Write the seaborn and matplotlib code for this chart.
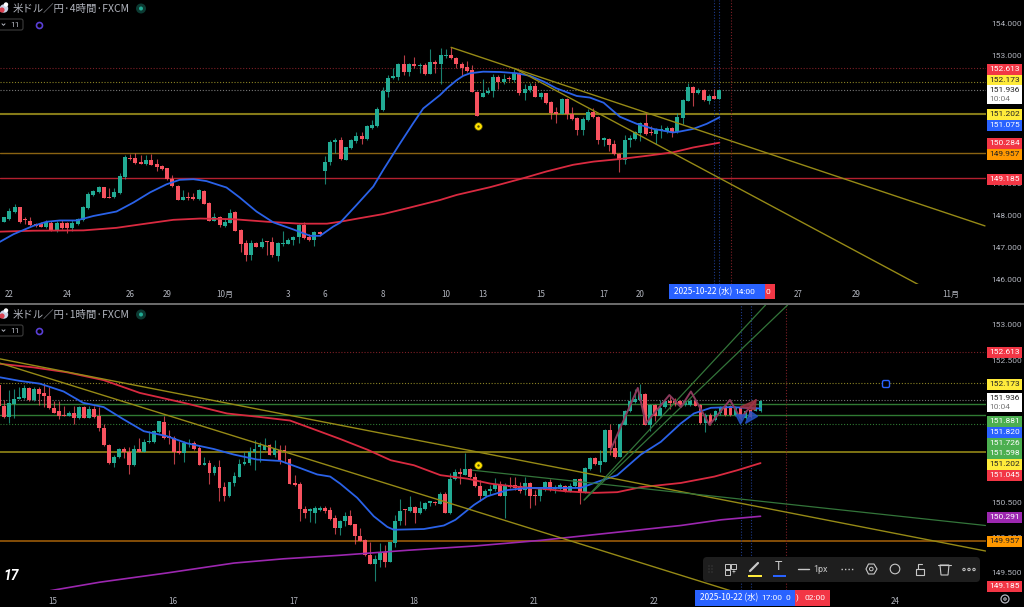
import numpy as np
import matplotlib
matplotlib.use("Agg")
import matplotlib.pyplot as plt
from matplotlib.patches import Rectangle, FancyBboxPatch, Circle, Polygon
import seaborn as sns

# ---------- 4 hour panel candles ----------
top_body_hi = [147.96,148.17,148.29,148.29,147.90,147.85,147.75,147.75,147.82,147.79,147.77,147.79,147.79,147.79,147.91,148.27,148.69,148.77,148.91,148.91,148.58,148.74,149.25,149.84,149.81,149.81,149.68,149.76,149.76,149.62,149.56,149.49,149.17,148.95,148.60,148.59,148.58,148.81,148.79,148.42,147.97,147.96,147.80,148.10,148.11,147.56,147.15,147.17,147.17,147.20,147.21,147.18,147.16,147.17,147.26,147.35,147.72,147.72,147.33,147.50,147.50,149.69,150.32,150.38,
150.38,150.17,150.36,150.51,150.50,150.81,150.83,151.34,151.91,152.32,152.36,152.76,152.76,152.76,152.75,152.72,152.72,152.81,152.82,153.02,153.02,153.03,152.95,152.75,152.66,152.55,151.89,151.83,151.92,152.35,152.34,152.29,152.31,152.47,152.47,151.98,152.06,152.05,151.83,151.83,151.56,151.25,151.65,151.65,151.20,151.05,151.04,151.26,151.26,151.10,150.43,150.42,150.24,149.95,150.38,150.43,150.61,150.91,150.92,150.64,150.71,150.72,150.75,150.74,151.08,151.63,152.03,152.04,151.95,151.94,151.75,151.75,151.94]
top_body_lo = [147.82,147.92,148.14,147.82,147.87,147.72,147.69,147.67,147.65,147.54,147.52,147.63,147.61,147.61,147.75,147.88,148.24,148.66,148.74,148.56,148.56,148.58,148.71,149.22,149.77,149.66,149.64,149.62,149.60,149.54,149.46,149.16,148.94,148.50,148.50,148.55,148.54,148.52,148.39,147.85,147.84,147.72,147.70,147.79,147.54,147.11,146.78,146.77,147.03,147.02,147.20,146.77,146.76,147.11,147.13,147.25,147.33,147.32,147.24,147.25,147.44,149.42,149.68,150.30,
149.77,149.75,150.13,150.33,150.41,150.40,150.76,150.80,151.30,151.87,152.30,152.33,152.49,152.49,152.69,152.69,152.45,152.45,152.75,152.74,152.99,152.94,152.74,152.64,152.53,151.89,151.13,151.72,151.84,151.91,152.19,152.19,152.27,152.24,151.84,151.84,151.94,151.72,151.73,151.53,151.23,151.20,151.20,151.19,151.02,150.69,150.69,151.01,151.08,150.38,150.38,150.22,149.94,149.75,149.75,150.36,150.41,150.58,150.56,150.58,150.57,150.69,150.63,150.61,150.61,151.05,151.60,151.83,151.83,151.61,151.60,151.67,151.67]
top_high = [147.98,148.24,148.38,148.29,147.96,147.98,147.77,147.82,147.88,147.85,147.85,147.88,147.82,147.88,147.93,148.31,148.76,148.81,148.94,148.92,148.86,148.86,149.35,149.91,149.94,149.96,149.91,149.91,149.94,149.77,149.59,149.51,149.28,148.97,148.81,148.76,148.73,148.84,148.81,148.43,148.08,148.00,147.93,148.21,148.17,147.58,147.25,147.25,147.20,147.30,147.23,147.35,147.20,147.54,147.30,147.37,147.75,147.82,147.44,147.53,147.54,149.88,150.38,150.44,
150.48,150.17,150.40,150.64,150.64,150.83,151.00,151.40,152.04,152.41,152.64,152.79,153.03,152.79,152.96,152.77,152.77,153.23,152.88,153.24,153.21,153.27,152.98,152.82,152.84,152.71,151.92,152.27,152.02,152.44,152.41,152.44,152.38,152.58,152.49,152.11,152.15,152.15,151.89,151.85,151.58,151.40,151.68,151.68,151.40,151.10,151.08,151.33,151.36,151.13,150.46,150.44,150.38,149.97,150.53,150.53,150.65,150.95,151.23,150.81,150.74,150.84,150.81,150.79,151.21,151.65,152.17,152.06,151.99,151.96,151.80,151.96,151.96]
top_low = [147.80,147.88,148.08,147.79,147.75,147.69,147.65,147.65,147.61,147.52,147.50,147.60,147.48,147.54,147.72,147.85,148.22,148.63,148.71,148.55,148.55,148.56,148.69,149.15,149.75,149.62,149.61,149.60,149.58,149.42,149.44,149.13,148.92,148.49,148.49,148.50,148.50,148.50,148.38,147.84,147.83,147.67,147.67,147.77,147.53,146.89,146.59,146.62,147.02,147.00,146.78,146.73,146.60,147.06,147.11,147.09,147.17,147.28,147.22,147.06,147.38,149.00,149.59,149.98,
149.75,149.75,150.10,150.27,150.25,150.38,150.73,150.77,151.28,151.73,152.28,152.25,152.41,152.38,152.61,152.46,152.42,152.43,152.48,152.13,152.93,152.90,152.64,152.38,152.51,151.86,151.11,151.71,151.81,151.73,151.97,152.11,152.22,152.20,151.79,151.63,151.89,151.71,151.65,151.51,151.02,150.90,151.19,151.02,151.00,150.52,150.52,150.98,151.05,150.25,150.19,150.04,149.92,149.39,149.63,150.17,150.38,150.35,150.54,150.52,150.25,150.43,150.60,150.48,150.59,150.88,151.59,151.45,151.81,151.60,151.50,151.65,151.67]
top_dir = "gggrrrrrgrgrrggggggrrgggrrrgrrrrrrgrrgrrgrggrrrgrgrrgggggrrgrggg" \
          "rgggrgggggggrgrgrgrggrrrrrrgggrgrgrggrgrrrgrrrggrrgrrrggggrrgggrgggrgrgrg"

# ---------- 1 hour panel candles ----------
bot_body_hi = [152.15,151.86,151.90,151.96,151.98,152.11,152.11,152.10,152.10,152.04,151.99,151.83,151.78,151.73,151.76,151.76,151.84,151.84,151.81,151.81,151.71,151.55,151.31,151.14,151.25,151.25,151.20,151.25,151.25,151.35,151.36,151.50,151.64,151.63,151.43,151.41,151.22,151.34,151.34,151.34,151.26,151.05,151.05,150.99,150.99,150.71,150.78,150.87,151.04,151.06,151.20,151.25,151.31,151.30,151.30,151.25,151.24,151.24,151.11,150.77,150.75,150.40,150.40,150.41,150.42,150.42,150.39,150.27,150.24,
150.31,150.31,150.19,150.02,149.97,149.76,149.70,149.78,149.79,149.94,150.24,150.38,150.40,150.43,150.43,150.41,150.49,150.51,150.50,150.62,150.62,150.83,150.93,150.93,150.96,150.96,150.86,150.73,150.66,150.69,150.75,150.75,150.74,150.74,150.74,150.72,150.77,150.77,150.60,150.68,150.79,150.78,150.71,150.74,150.73,150.73,150.82,150.83,150.98,151.12,151.12,151.08,151.52,151.52,151.26,151.60,151.79,151.92,151.95,152.03,152.03,151.87,151.87,151.83,151.93,151.93,151.92,
151.92,151.92,151.93,151.93,151.87,151.73,151.73,151.79,151.84,151.85,151.85,151.84,151.83,151.78,151.80,151.82,151.93]
bot_body_lo = [151.85,151.70,151.70,151.89,151.96,151.97,151.94,151.94,152.03,151.99,151.83,151.76,151.72,151.72,151.72,151.68,151.68,151.69,151.69,151.70,151.55,151.30,151.05,151.05,151.13,151.20,151.03,151.03,151.21,151.21,151.35,151.35,151.49,151.40,151.40,151.20,151.19,151.19,151.32,151.25,151.03,151.03,150.91,150.91,150.70,150.58,150.58,150.77,150.86,151.04,151.05,151.20,151.28,151.24,151.17,151.17,151.10,151.21,150.76,150.74,150.40,150.34,150.38,150.34,150.39,150.38,150.26,150.14,150.14,
150.23,150.18,150.02,149.95,149.75,149.63,149.63,149.69,149.66,149.66,149.92,150.23,150.39,150.37,150.34,150.34,150.40,150.49,150.49,150.48,150.34,150.34,150.82,150.90,150.88,150.85,150.72,150.59,150.59,150.65,150.68,150.59,150.58,150.71,150.70,150.66,150.67,150.59,150.59,150.58,150.67,150.67,150.69,150.69,150.65,150.65,150.72,150.63,150.64,150.97,151.04,151.03,151.07,151.26,151.14,151.14,151.59,151.79,151.91,151.94,151.59,151.59,151.71,151.72,151.84,151.90,151.89,
151.87,151.87,151.87,151.86,151.61,151.61,151.61,151.66,151.75,151.73,151.73,151.73,151.68,151.68,151.70,151.79,151.78]
bot_high = [152.18,151.94,152.08,152.09,152.12,152.15,152.12,152.12,152.12,152.16,152.12,151.92,151.92,151.86,151.78,151.86,151.85,151.85,151.86,151.86,151.84,151.60,151.32,151.16,151.26,151.28,151.28,151.31,151.40,151.39,151.50,151.51,151.65,151.72,151.52,151.43,151.36,151.36,151.39,151.36,151.31,151.13,151.10,151.03,151.10,150.78,150.79,150.93,151.11,151.20,151.28,151.38,151.35,151.41,151.32,151.38,151.30,151.30,151.12,150.88,150.79,150.44,150.41,150.44,150.45,150.44,150.43,150.32,150.25,
150.36,150.39,150.19,150.13,149.98,149.94,149.76,149.92,149.90,149.94,150.32,150.55,150.40,150.59,150.44,150.51,150.50,150.52,150.51,150.64,150.64,150.91,150.96,150.98,151.19,150.98,150.91,150.81,150.68,150.74,150.84,150.80,150.77,150.86,150.86,150.79,150.86,150.78,150.67,150.70,150.80,150.83,150.74,150.77,150.74,150.77,150.83,150.84,150.99,151.14,151.14,151.24,151.53,151.60,151.38,151.61,151.80,152.06,152.09,152.17,152.04,151.89,151.88,151.94,151.94,151.99,151.97,
151.94,151.94,151.95,151.94,151.89,151.75,151.75,151.80,151.86,151.87,151.87,151.86,151.85,151.80,151.83,151.84,151.94]
bot_low = [151.84,151.68,151.62,151.68,151.95,151.96,151.93,151.93,151.87,151.84,151.82,151.75,151.67,151.71,151.71,151.60,151.67,151.68,151.68,151.68,151.50,151.29,151.04,151.00,151.12,151.12,150.90,151.01,151.20,151.20,151.33,151.33,151.47,151.39,151.32,151.04,151.18,151.07,151.28,151.24,151.03,151.02,150.75,150.88,150.51,150.51,150.57,150.72,150.85,151.03,151.03,150.95,151.07,151.23,151.16,151.14,151.04,151.05,150.75,150.73,150.24,150.27,150.22,150.21,150.38,150.34,150.25,150.05,150.04,
150.16,150.17,149.91,149.95,149.74,149.62,149.38,149.59,149.59,149.65,149.87,150.17,150.17,150.36,150.21,150.33,150.39,150.44,150.46,150.47,150.34,150.33,150.81,150.76,150.88,150.84,150.71,150.52,150.58,150.60,150.66,150.58,150.27,150.70,150.67,150.63,150.60,150.41,150.46,150.52,150.66,150.66,150.63,150.67,150.64,150.64,150.71,150.48,150.63,150.95,151.03,150.92,151.06,151.17,151.12,151.13,151.59,151.77,151.90,151.93,151.59,151.50,151.64,151.71,151.83,151.81,151.85,
151.85,151.86,151.86,151.85,151.60,151.49,151.59,151.65,151.73,151.72,151.71,151.71,151.66,151.67,151.68,151.78,151.77]
bot_dir = "rrggggrgrr" "rrrrgrgrgr" "rrrggrrgrg" "gggrrrrggr" "rgrgrrgggg" "ggggrgrrrr" "rrgggrrrg" \
          "grrrrrggrg" "ggrgrgggrg" "rggrgrrrgg" "grgrrrgrrg" "grggrggrgg" "rggrrggggg" "rgrggrr" \
          "rggrrgrggrrgrgrgg"

# ---------- moving averages ----------
top_blue_x = [-0.8,1.8,5.55,8.1,10.6,13.8,17.0,21.4,24.6,27.8,30.9,33.4,36.0,38.5,42.3,44.8,48.0,51.2,55.0,58.2,60.1,62.6,63.9,67.0,70.2,72.1,75.3,77.8,79.7,82.9,84.2,86.1,87.3,88.6,91.1,94.3,97.5,100.0,102.6,105.0,108.9,111.4,114.0,117.1,120.3,123.5,127.2,128.5,131.0,133.6,136.0]
top_blue_y = [147.19,147.43,147.69,147.82,147.86,147.86,148.00,148.14,148.42,148.74,148.99,149.13,149.15,149.09,148.89,148.58,148.14,147.80,147.58,147.38,147.38,147.67,147.79,148.34,148.92,149.44,150.27,150.90,151.36,151.78,151.99,152.25,152.38,152.46,152.51,152.50,152.46,152.38,152.20,151.99,151.75,151.70,151.54,151.10,150.88,150.72,150.61,150.64,150.72,150.88,151.08]
top_red_x = [-0.8,5.55,15.1,21.4,26.5,32.2,37.3,43.6,50.0,56.2,61.4,63.9,67.6,72.1,76.6,82.9,86.1,92.4,98.7,103.1,108.2,112.1,117.1,122.2,127.2,131.0,136.0]
top_red_y = [147.51,147.54,147.55,147.63,147.75,147.88,147.92,147.90,147.82,147.76,147.76,147.82,147.93,148.06,148.24,148.50,148.66,148.90,149.18,149.39,149.60,149.70,149.78,149.88,149.99,150.14,150.29]

bot_blue_x = [0.2,4.1,8.2,12.9,16.8,20.9,24.8,28.9,33.5,37.5,42.8,46.9,51.5,56.2,60.1,63.5,66.1,68.1,71.5,74.8,77.5,78.8,84.8,88.8,91.1,94.8,97.4,101.5,105.4,112.1,116.1,118.8,123.4,128.1,132.1,136.1,138.7,142.1,146.1,152.0]
bot_blue_y = [152.26,152.21,152.17,152.06,151.90,151.84,151.67,151.50,151.43,151.33,151.25,151.17,151.10,151.08,150.98,150.89,150.86,150.76,150.56,150.30,150.15,150.11,150.12,150.17,150.25,150.46,150.58,150.67,150.70,150.70,150.70,150.77,150.88,151.17,151.35,151.61,151.75,151.83,151.84,151.82]
bot_red_x = [0.2,6.9,13.6,20.9,28.1,36.9,45.5,52.1,58.1,63.5,68.1,73.5,78.2,82.8,88.1,93.5,98.1,102.8,108.1,113.4,118.8,123.4,128.1,136.1,142.8,147.4,152.0]
bot_red_y = [152.45,152.40,152.33,152.22,152.04,151.90,151.75,151.70,151.65,151.51,151.39,151.24,151.09,151.02,150.88,150.83,150.76,150.72,150.69,150.65,150.63,150.64,150.71,150.77,150.86,150.95,151.05]
bot_purple_x = [10.2,20.1,33.5,46.9,56.8,68.1,81.5,94.8,108.1,121.4,136.1,144.1,152.0]
bot_purple_y = [149.25,149.37,149.50,149.64,149.70,149.75,149.82,149.88,149.96,150.06,150.17,150.25,150.30]
zig_x = [122.1,127.5,129.1,133.8,136.1,138.1,141.8,145.9,148.0,151.1]
zig_y = [151.24,152.11,151.61,152.01,151.84,152.06,151.59,151.94,151.68,151.94]

# ---------- levels, trend lines, labels ----------
top_trend_x = [[85.0,186.5],[97.1,173.8]]
top_trend_y = [[153.27,147.69],[152.61,145.86]]
bot_yellow_x = [[0.2,196.9],[0.2,146.0]]
bot_yellow_y = [[152.52,149.81],[152.46,149.25]]
bot_green_x = [[94.5,196.9],[116.8,153.0],[116.8,157.4]]
bot_green_y = [[150.95,150.17],[150.53,153.28],[150.53,153.28]]

top_tick_pos = [1,12,24,31,42,54,61,72,84,91,102,114,121,151,162,180]
top_tick_lab = ["22","24","26","29","10月","3","6","8","10","13","15","17","20","27","29","11月"]
bot_tick_pos = [10.8,34.8,58.8,82.8,106.8,130.8,178.8]
bot_tick_lab = ["15","16","17","18","21","22","24"]
# price ticks that the reference shows at least partly
top_prices = [146,147,148,149,153,154]
bot_prices = [149.5,150,150.5,152,152.5,153]

# tag text, tag colour, text colour, tag centre in image rows
RED, YEL, BLU, GRN, ORG, PUR = "#f23645", "#ffeb3b", "#2962ff", "#4caf50", "#ff9800", "#9c27b0"
top_tags = [("152.613",RED,"w",69),("152.173",YEL,"#222",80),("151.202",YEL,"#222",114),("151.075",BLU,"w",125),("150.284",RED,"w",143),("149.957",ORG,"#222",154),("149.185",RED,"w",179)]
bot_tags = [("152.613",RED,"w",352),("152.173",YEL,"#222",384),("151.881",GRN,"w",421),("151.820",BLU,"w",432),("151.726",GRN,"w",443),("151.598",GRN,"w",453),("151.202",YEL,"#222",464),("151.045",RED,"w",475),("150.291",PUR,"w",517),("149.957",ORG,"#222",541),("149.185",RED,"w",586)]

assert len(top_body_hi) == len(top_body_lo) == len(top_high) == len(top_low) == len(top_dir)
assert len(bot_body_hi) == len(bot_body_lo) == len(bot_high) == len(bot_low) == len(bot_dir)

# ---------- figure ----------
sns.set_theme(style="dark", rc={"axes.facecolor": "black", "figure.facecolor": "black"})
LATIN = ["Roboto", "DejaVu Sans"]
JP = ["Noto Sans CJK JP", "DejaVu Sans"]
plt.rcParams["font.family"] = LATIN
GREY = "#b2b5be"
W, H = 1024, 607
fig = plt.figure(figsize=(W/100, H/100), dpi=100, facecolor="black")

def make_ax(y0, y1, xlim, ylim):
    ax = fig.add_axes([0, 1-y1/H, 985.5/W, (y1-y0)/H], facecolor="black")
    ax.set_xlim(*xlim); ax.set_ylim(*ylim)
    for s in ax.spines.values():
        s.set_visible(False)
    ax.yaxis.tick_right()
    ax.grid(False)
    return ax

def candles(ax, hi, lo, high, low, dirs):
    hi, lo, high, low = map(np.asarray, (hi, lo, high, low))
    x = np.arange(len(hi))
    col = np.where(np.array(list(dirs)) == "g", "#22ab94", "#f7525f")
    ax.vlines(x, low, high, colors=col, lw=0.8, alpha=0.75, zorder=3)
    ax.bar(x, np.maximum(hi-lo, 0.012), bottom=lo, width=0.76, color=col, linewidth=0, zorder=4)

def line(ax, x, y, color, lw=1.3, z=5):
    sns.lineplot(x=x, y=y, ax=ax, color=color, lw=lw, estimator=None, sort=False, zorder=z, legend=False)

def level(ax, y, color, ls="-", lw=1.0):
    ax.axhline(y, color=color, ls=ls, lw=lw, zorder=2)

def ticks(ax, pos, lab, prices, pad):
    ax.set_xticks(pos); ax.set_xticklabels(lab, family=JP, fontsize=5.8, color=GREY)
    ax.set_yticks(prices); ax.set_yticklabels([f"{p:.3f}" for p in prices], fontsize=6, color=GREY)
    ax.tick_params(axis="x", length=0, pad=pad)
    ax.tick_params(axis="y", length=0, pad=4)
    ax.set_xlabel(""); ax.set_ylabel("")

DOT = (0, (1, 1.6))
# top panel
ax1 = make_ax(0, 283.5, (-0.76, 186.6), (145.89, 154.75))
level(ax1, 152.613, "#7d1f26", DOT, 0.8)
level(ax1, 152.173, "#8a8224", DOT, 0.8)
level(ax1, 151.936, "#7a7a7a", DOT, 0.8)
level(ax1, 151.202, "#857a18", "-", 1.5)
level(ax1, 149.957, "#8a6312", "-", 1.0)
level(ax1, 149.185, "#b3202f", "-", 1.0)
for v, c in zip([135, 136, 138.2], ["#1d3a8a", "#1d3a8a", "#7d1f26"]):
    ax1.axvline(v, color=c, ls=DOT, lw=0.8, zorder=2)
for xs, ys in zip(top_trend_x, top_trend_y):
    line(ax1, xs, ys, "#968a16", 1.0, 6)
candles(ax1, top_body_hi, top_body_lo, top_high, top_low, top_dir)
line(ax1, top_red_x, top_red_y, "#d92a40", 1.3)
line(ax1, top_blue_x, top_blue_y, "#2a62e8", 1.3)
ax1.scatter([90.1], [150.82], s=30, color="#ffe000", edgecolor="#5a5200", linewidth=0.5, zorder=7)
ax1.scatter([90.1], [150.82], s=3, color="#5a5200", linewidth=0, zorder=8)
ticks(ax1, top_tick_pos, top_tick_lab, top_prices, 4.5)

# bottom panel
ax2 = make_ax(305, 590, (0.2, 196.9), (149.26, 153.28))
level(ax2, 152.613, "#7d1f26", DOT, 0.8)
level(ax2, 152.173, "#8a8224", DOT, 0.8)
level(ax2, 151.936, "#7a7a7a", DOT, 0.8)
level(ax2, 151.881, "#2f7a33", "-", 1.0)
level(ax2, 151.726, "#2f7a33", "-", 1.0)
level(ax2, 151.598, "#2f7a33", DOT, 0.8)
level(ax2, 151.202, "#a0931a", "-", 1.1)
level(ax2, 149.957, "#a8620a", "-", 1.1)
for v, c in zip([148, 150, 157], ["#1d3a8a", "#1d3a8a", "#7d1f26"]):
    ax2.axvline(v, color=c, ls=DOT, lw=0.8, zorder=2)
for xs, ys in zip(bot_yellow_x, bot_yellow_y):
    line(ax2, xs, ys, "#968a16", 1.0, 6)
for xs, ys in zip(bot_green_x, bot_green_y):
    line(ax2, xs, ys, "#33753a", 0.9, 6)
candles(ax2, bot_body_hi, bot_body_lo, bot_high, bot_low, bot_dir)
line(ax2, bot_purple_x, bot_purple_y, "#9c27b0", 1.2)
line(ax2, bot_red_x, bot_red_y, "#d92a40", 1.3)
line(ax2, bot_blue_x, bot_blue_y, "#2a62e8", 1.3)
line(ax2, zig_x, zig_y, "#8b3a5c", 1.4, 7)
ax2.add_patch(Polygon([(147.9,151.84),(151.1,151.94),(150.9,151.80)], color="#a0323f", alpha=0.8, zorder=7))
ax2.add_patch(Polygon([(147.1,151.73),(148,151.60),(149,151.73)], color="#2453c4", alpha=0.8, zorder=7))
ax2.add_patch(Polygon([(149,151.61),(151.4,151.71),(150,151.78)], color="#2453c4", alpha=0.8, zorder=7))
ax2.scatter([95.7], [151.03], s=30, color="#ffe000", edgecolor="#5a5200", linewidth=0.5, zorder=7)
ax2.scatter([95.7], [151.03], s=3, color="#5a5200", linewidth=0, zorder=8)
ticks(ax2, bot_tick_pos, bot_tick_lab, bot_prices, 5)

# overlay for labels and interface furniture
ov = fig.add_axes([0, 0, 1, 1], facecolor="none", zorder=20)
ov.set_xlim(0, W); ov.set_ylim(H, 0); ov.axis("off")
ov.add_patch(Rectangle((0, 302.5), W, 2, color="#6a6a6a", lw=0))

def tag(txt, bg, fg, yc, x0=986.5, h=11):
    ov.add_patch(Rectangle((x0, yc-h/2), 35.5, h, color=bg, lw=0))
    ov.text(x0+17.8, yc, txt, color=fg, fontsize=6, ha="center", va="center")

for t in top_tags:
    tag(*t)
for t in bot_tags:
    tag(*t)
for yc in (94, 402):
    ov.add_patch(Rectangle((986.5, yc-9.5), 35.5, 19, color="white", lw=0))
    ov.text(1004.3, yc-4.5, "151.936", color="#222", fontsize=6, ha="center", va="center")
    ov.text(1000, yc+4.7, "10:04", color="#777", fontsize=6, ha="center", va="center")

def header(y, name):
    ov.text(13, y, name, color=GREY, fontsize=7.5, family=JP, ha="left", va="center")
    ov.add_patch(Circle((4, y), 4.2, color="#c9d3e6", lw=0))
    ov.add_patch(Circle((2, y+1.5), 2.6, color="#d8404f", lw=0))
    ov.add_patch(Circle((6, y-4), 2.2, color="white", lw=0))
    ov.add_patch(Circle((141, y), 5, color="#0c3a32", lw=0))
    ov.add_patch(Circle((141, y), 2, color="#22ab94", lw=0))
    ov.add_patch(FancyBboxPatch((-3, y+10.5), 26, 11, boxstyle="round,pad=0,rounding_size=2", fc="none", ec="#3c3c3c", lw=0.8))
    ov.plot([2, 3.5, 5], [y+15.3, y+16.8, y+15.3], color=GREY, lw=0.7)
    ov.text(15.5, y+16.2, "11", color=GREY, fontsize=6, ha="center", va="center")
    ov.add_patch(Circle((39.5, y+17), 3, fc="none", ec="#5a3fd6", lw=1.2))

header(8.5, "米ドル／円·4時間·FXCM")
header(314.5, "米ドル／円·1時間·FXCM")

ov.text(11, 576, "17", color="white", fontsize=10, fontweight="bold", style="italic", ha="center", va="center")

# time tags
ov.add_patch(Rectangle((669, 284), 96, 15, color=BLU, lw=0))
ov.add_patch(Rectangle((765, 284), 10, 15, color=RED, lw=0))
ov.text(674, 292, "2025-10-22 (水)", color="w", fontsize=6, family=JP, ha="left", va="center")
ov.text(744.5, 292, "14:00", color="w", fontsize=6, ha="center", va="center")
ov.text(767.5, 292, "0", color="w", fontsize=6, ha="center", va="center")

ov.add_patch(Rectangle((695, 590), 100, 16, color=BLU, lw=0))
ov.add_patch(Rectangle((795, 590), 35, 16, color=RED, lw=0))
ov.text(700, 598, "2025-10-22 (水)", color="w", fontsize=6, family=JP, ha="left", va="center")
ov.text(772, 598, "17:00", color="w", fontsize=6, ha="center", va="center")
ov.text(787.5, 598, "0", color="w", fontsize=6, ha="center", va="center")
ov.text(797, 598, ")", color="w", fontsize=6, ha="center", va="center")
ov.text(815, 598, "02:00", color="w", fontsize=6, ha="center", va="center")
ov.add_patch(Circle((1005, 599), 4, fc="none", ec=GREY, lw=0.9))
ov.add_patch(Circle((1005, 599), 1.2, fc="none", ec=GREY, lw=0.8))

# anchor square
ov.add_patch(FancyBboxPatch((882.5, 380.5), 7, 7, boxstyle="round,pad=0,rounding_size=1.5", fc="black", ec="#2962ff", lw=1))

# drawing toolbar
ov.add_patch(FancyBboxPatch((703, 557), 277, 25, boxstyle="round,pad=0,rounding_size=4", fc="#1e1e1e", ec="none"))
for dx in (0, 3):
    for dy in (-3, 0, 3):
        ov.add_patch(Circle((709+dx, 569+dy), 0.6, color="#4a4a4a", lw=0))
for (x, y) in [(727, 566), (733, 566), (727, 572)]:
    ov.add_patch(Rectangle((x-2, y-2), 4.5, 4.5, fc="none", ec="#c8c8c8", lw=0.7))
ov.text(734, 572, "+", color="#c8c8c8", fontsize=5, ha="center", va="center")
ov.plot([750, 758], [571, 563], color="#c8c8c8", lw=1.6)
ov.add_patch(Rectangle((748, 575), 14, 2, color="#ffeb3b", lw=0))
ov.text(778.5, 566.5, "T", color="#c8c8c8", fontsize=9, ha="center", va="center")
ov.add_patch(Rectangle((772.5, 575), 13.5, 2, color="#2962ff", lw=0))
ov.plot([798, 809], [569, 569], color="#c8c8c8", lw=1)
ov.text(821, 569.5, "1px", color="#c8c8c8", fontsize=6.5, ha="center", va="center")
ov.plot([841, 854], [569, 569], color="#c8c8c8", lw=1, ls=(0, (1, 1.5)))
ov.add_patch(Polygon([(866, 569), (868.5, 564), (874, 564), (877, 569), (874, 574), (868.5, 574)], fc="none", ec="#c8c8c8", lw=0.8))
ov.add_patch(Circle((871.3, 569), 1.8, fc="none", ec="#c8c8c8", lw=0.7))
ov.add_patch(Circle((895, 569), 4.8, fc="none", ec="#c8c8c8", lw=0.8))
ov.add_patch(Rectangle((916, 569), 8, 6, fc="none", ec="#c8c8c8", lw=0.8))
ov.plot([918, 918, 922], [569, 564, 564], color="#c8c8c8", lw=0.8)
ov.add_patch(Polygon([(940, 565), (949, 565), (948, 575), (941, 575)], fc="none", ec="#c8c8c8", lw=0.8))
ov.plot([938, 951], [565, 565], color="#c8c8c8", lw=0.8)
for x in (964, 969, 974):
    ov.add_patch(Circle((x, 569.5), 1.2, fc="none", ec="#c8c8c8", lw=0.7))
ov.set_xlim(0, W); ov.set_ylim(H, 0)

fig.savefig("out.png", dpi=100, facecolor="black")
